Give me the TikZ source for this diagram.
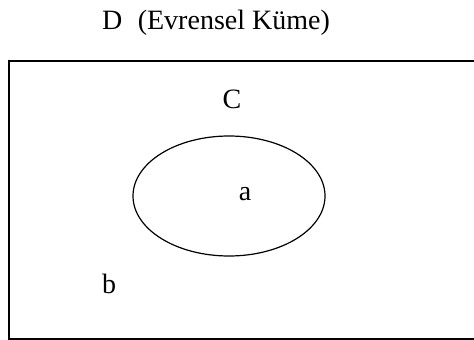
\documentclass[tikz,border=0pt]{standalone}
\usepackage{fontspec}
\setmainfont{Liberation Serif}
\usetikzlibrary{positioning}

\begin{document}
\begin{tikzpicture}[x=1pt, y=-1pt, font=\fontsize{28}{31}\selectfont]
  \useasboundingbox (0,0) rectangle (474,340);
  \clip (0,0) rectangle (474,340);
  % universal set and the subset
  \draw[line width=1.6pt] (9,61) rectangle (490,339);
  \draw[line width=1.2pt] (229,196) ellipse (96 and 60);
  \node[anchor=base west, inner sep=0pt] (title) at (102,29.5) {D\hspace{0.55em}(Evrensel Küme)};
  \node[anchor=base, inner sep=0pt] (setC) at (232,108) {C};
  \node[anchor=base, inner sep=0pt] (elemA) at (245,200) {a};
  \node[anchor=base, inner sep=0pt] (elemB) at (109,293) {b};
\end{tikzpicture}
\end{document}
